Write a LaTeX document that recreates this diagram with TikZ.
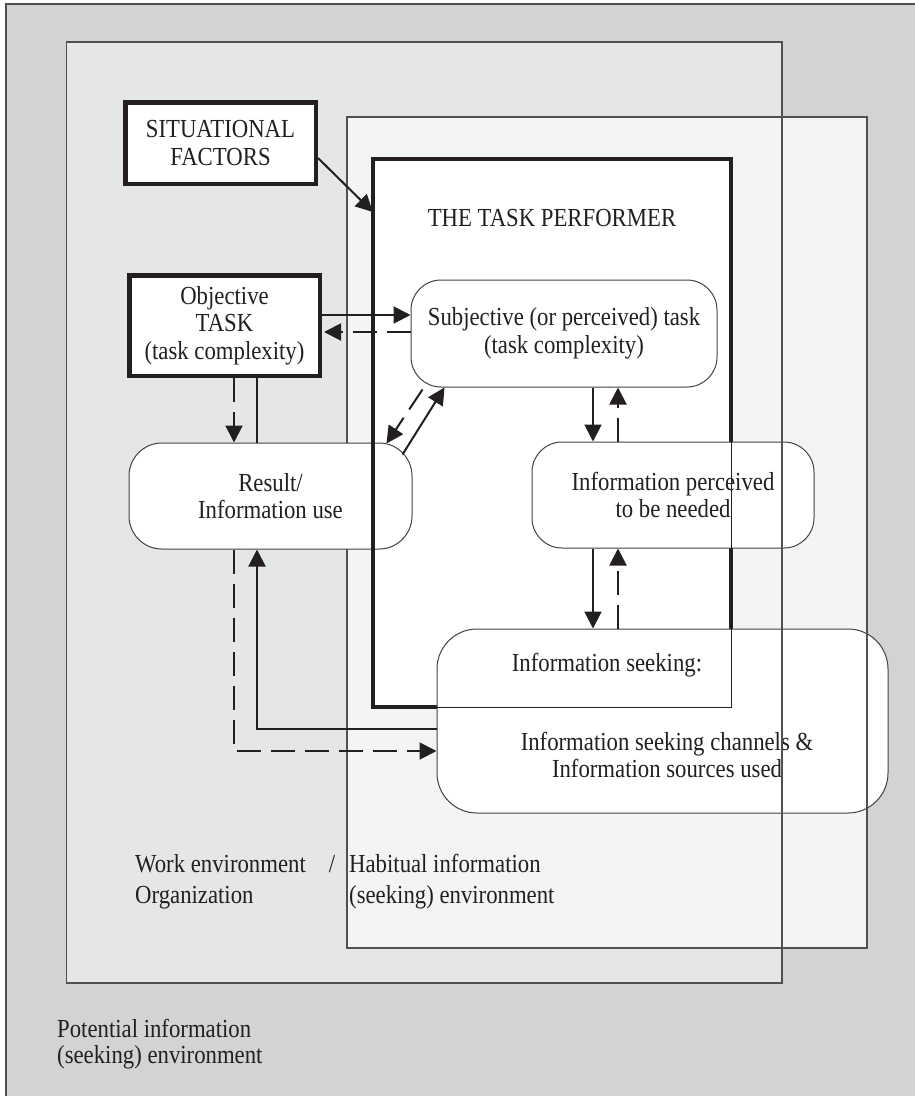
\documentclass[tikz,border=0pt]{standalone}
\usepackage{fontspec}
\setmainfont{Liberation Serif}[FakeStretch=0.875]
\usetikzlibrary{arrows.meta,calc}
\definecolor{ink}{HTML}{231F20}
\definecolor{potbg}{HTML}{D2D3D5}
\definecolor{workbg}{HTML}{E5E6E8}
\definecolor{habbg}{HTML}{F3F5F4}
\definecolor{rule}{HTML}{505052}

\begin{document}
\begin{tikzpicture}[x=1pt,y=-1pt,
  every node/.style={font=\fontsize{26}{27.5}\selectfont, text=ink},
  envrect/.style={draw=rule, line width=1.3pt},
  heavybox/.style={draw=ink, line width=4.5pt, fill=white, align=center, inner sep=0pt},
  roundbox/.style={draw=ink!85, line width=1pt, fill=white, rounded corners=30pt, align=center, inner sep=0pt},
  conn/.style={draw=ink, line width=2pt, -{Triangle[length=17pt,width=17pt]}},
  dconn/.style={conn, dash pattern=on 24pt off 10pt},
  plain/.style={draw=ink, line width=2pt},
  lbl/.style={anchor=base, inner sep=0pt},
  envlbl/.style={anchor=base west, inner sep=0pt},
]
\useasboundingbox (0,0) rectangle (914,1096);
\fill[white] (0,0) rectangle (914,1096);

% environment regions
\coordinate (potNW) at (6,4);
\coordinate (potSE) at (930,1110);
\coordinate (workNW) at (66.5,42);
\coordinate (workSE) at (782,983);
\coordinate (habNW) at (347,117);
\coordinate (habSE) at (867,948);
\draw[draw=rule, line width=1.5pt, fill=potbg] (potNW) rectangle (potSE);
\draw[envrect, fill=workbg] (workNW) rectangle (workSE);
\draw[envrect, fill=habbg] (habNW) rectangle (habSE);

% the task performer (white interior first, border later)
\node[fill=white, minimum width=358pt, minimum height=548pt, inner sep=0pt] (perf) at (552,433) {};
\node[lbl] (perftitle) at (552,226) {THE TASK PERFORMER};

\node[roundbox, rounded corners=33pt, minimum width=283pt, minimum height=106pt] (result) at (270.5,496) {Result/\\Information use};

\draw[ink, line width=4.5pt] (perf.north west) rectangle (perf.south east);

\node[heavybox, minimum width=190.5pt, minimum height=81.5pt] (sit) at (220.5,143) {SITUATIONAL\\FACTORS};
\node[heavybox, minimum width=190.5pt, minimum height=100.5pt] (obj) at (224.5,325.5) {Objective\\TASK\\(task complexity)};
\node[roundbox, minimum width=306pt, minimum height=107pt] (subj) at (564,333.5) {Subjective (or perceived) task\\(task complexity)};
\node[roundbox, minimum width=282pt, minimum height=106pt] (percv) at (673,495) {Information perceived\\to be needed};
\node[roundbox, rounded corners=40pt, minimum width=451pt, minimum height=184pt] (seek) at (662.5,721) {};

% thin trace of the performer frame over the overlapping boxes
\draw[ink, line width=1pt] (perf.north west) rectangle (perf.south east);

\node[lbl] (seekhead) at (607,671) {Information seeking:};
\node[lbl] (seekline1) at (667,750) {Information seeking channels \&};
\node[lbl] (seekline2) at (667,777) {Information sources used};

% connectors
\draw[conn] (sit.east |- 0,158) -- (perf.west |- 0,212);
\draw[conn] (obj.east |- 0,315) -- (subj.west |- 0,315);
\draw[dconn, shorten >=2pt] (subj.west |- 0,332) -- (obj.east |- 0,332);
\draw[dconn] (obj.south -| 234,0) -- (result.north -| 234,0);
\draw[plain] (obj.south -| 257,0) -- (result.north -| 257,0);
\draw[conn] ($(result.north east)+(-10,12)$) -- ($(subj.south west)+(34,0)$);
\draw[dconn] ($(subj.south west)+(12,2)$) -- ($(result.north east)+(-26,1)$);
\draw[conn] (subj.south -| 593,0) -- (percv.north -| 593,0);
\draw[dconn] (percv.north -| 618,0) -- (subj.south -| 618,0);
\draw[conn] (percv.south -| 593,0) -- (seek.north -| 593,0);
\draw[dconn] (seek.north -| 618,0) -- (percv.south -| 618,0);
\draw[conn] (seek.west |- 0,729) -| (result.south -| 257,0);
\draw[dconn] (result.south -| 234,0) |- (seek.west |- 0,751);

% region edges that run over the boxes
\draw[envrect] (workSE |- workNW) -- (workSE);
\draw[envrect] (habSE |- habNW) -- (habSE);

% region labels
\node[envlbl] (worklbl) at (135,872) {\makebox[200pt][l]{Work environment\hfill/}};
\node[envlbl] (orglbl) at (135,903) {Organization};
\node[envlbl] (hablbl) at (349,872) {Habitual information};
\node[envlbl] (hablbl2) at (349,903) {(seeking) environment};
\node[envlbl] (potlbl) at (57,1037) {Potential information};
\node[envlbl] (potlbl2) at (57,1063) {(seeking) environment};
\end{tikzpicture}
\end{document}
